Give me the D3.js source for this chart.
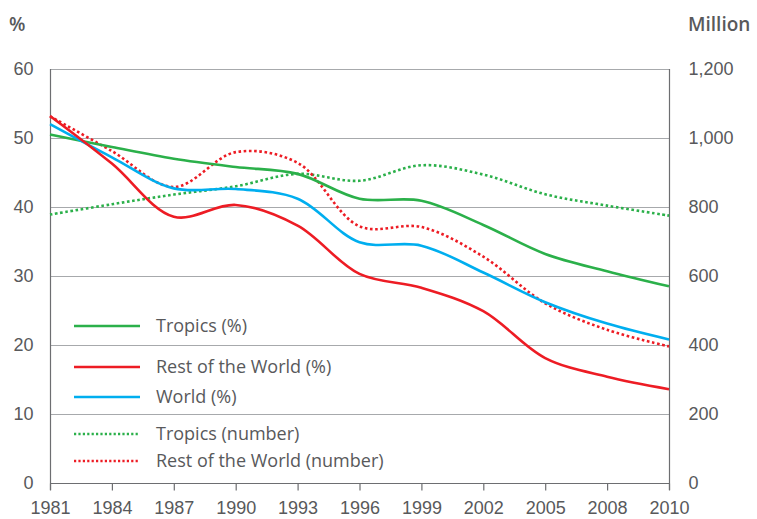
<!DOCTYPE html>
<html>
<head>
<meta charset="utf-8">
<script src="https://cdn.jsdelivr.net/npm/d3@7"></script>
<style>
  body { margin: 0; background: #fff; }
  svg { font-family: "Open Sans", sans-serif; }
  .tick text { fill: #58595b; font-size: 18px; }
</style>
</head>
<body>
<script>
// poverty data, years are plotted as evenly spaced points
const years = ['1981', '1984', '1987', '1990', '1993', '1996', '1999', '2002', '2005', '2008', '2010'];

const tropicsPct = [50.5, 48.7, 47.0, 45.8, 44.8, 41.2, 40.9, 37.4, 33.2, 30.7, 28.5];
const restPct = [53.2, 46.3, 38.6, 40.3, 37.3, 30.3, 28.3, 24.9, 18.1, 15.4, 13.6];
const worldPct = [52.0, 47.2, 42.7, 42.6, 41.2, 34.9, 34.4, 30.5, 26.2, 23.1, 20.8];
const tropicsNum = [778, 808, 836, 860, 896, 876, 921, 894, 837, 804, 775];
const restNum = [1063, 962, 858, 959, 928, 744, 742, 656, 521, 444, 396];

const leftTicks = [0, 10, 20, 30, 40, 50, 60];
const rightTicks = [0, 200, 400, 600, 800, 1000, 1200];

const w = 757, h = 519;
const margin = { left: 50, right: 88, top: 69, bottom: 36 };

const svg = d3.select('body')
  .append('svg')
  .attr('width', w)
  .attr('height', h);

const x = d3.scalePoint()
  .domain(years)
  .range([margin.left, w - margin.right]);

const yLeft = d3.scaleLinear()
  .domain([0, 60])
  .range([h - margin.bottom, margin.top]);

const yRight = d3.scaleLinear()
  .domain([0, 1200])
  .range([h - margin.bottom, margin.top]);

// gridlines
svg.append('g')
  .selectAll('line')
  .data(leftTicks.filter(d => d > 0))
  .enter().append('line')
  .attr('x1', margin.left)
  .attr('x2', w - margin.right)
  .attr('y1', d => Math.round(yLeft(d)) + 0.5)
  .attr('y2', d => Math.round(yLeft(d)) + 0.5)
  .attr('stroke', '#a7a9ac')
  .attr('stroke-width', 1.2);

// axes
const xAxis = svg.append('g')
  .attr('transform', `translate(0,${Math.round(yLeft(0)) + 0.5})`)
  .call(d3.axisBottom(x).tickSize(7).tickPadding(11));

const leftAxis = svg.append('g')
  .attr('transform', `translate(${margin.left + 0.5},0)`)
  .call(d3.axisLeft(yLeft).tickValues(leftTicks).tickSize(0).tickPadding(17));

const rightAxis = svg.append('g')
  .attr('transform', `translate(${w - margin.right + 0.5},0)`)
  .call(d3.axisRight(yRight).tickValues(rightTicks).tickSize(0).tickPadding(19)
    .tickFormat(d3.format(',')));

[xAxis, leftAxis, rightAxis].forEach(a => {
  a.select('.domain').attr('stroke', '#6d6e71').attr('stroke-width', 1.2);
  a.selectAll('.tick line').attr('stroke', '#6d6e71').attr('stroke-width', 1.2);
});
xAxis.select('.domain').attr('d', `M${margin.left},0H${w - margin.right}`);
rightAxis.select('.domain').attr('d', `M0,${margin.top}V${h - margin.bottom + 7}`);
leftAxis.select('.domain').attr('d', `M0,${margin.top}V${h - margin.bottom + 7}`);

// axis titles
svg.append('text')
  .attr('x', 9).attr('y', 31)
  .attr('fill', '#58595b')
  .style('font-size', '19px')
  .style('font-weight', 600)
  .text('%');

svg.append('text')
  .attr('x', 688).attr('y', 31)
  .attr('fill', '#58595b')
  .style('font-size', '19px')
  .style('font-weight', 600)
  .text('Million');

// series
const series = [
  { name: 'Tropics (number)', values: tropicsNum, y: yRight, color: '#2bb04a', dotted: true },
  { name: 'Rest of the World (number)', values: restNum, y: yRight, color: '#ed1c24', dotted: true },
  { name: 'Tropics (%)', values: tropicsPct, y: yLeft, color: '#2bb04a', dotted: false },
  { name: 'World (%)', values: worldPct, y: yLeft, color: '#00aeef', dotted: false },
  { name: 'Rest of the World (%)', values: restPct, y: yLeft, color: '#ed1c24', dotted: false },
];

series.forEach(s => {
  const line = d3.line()
    .x((d, i) => x(years[i]))
    .y(d => s.y(d))
    .curve(d3.curveCatmullRom.alpha(0.5));
  svg.append('path')
    .datum(s.values)
    .attr('d', line)
    .attr('fill', 'none')
    .attr('stroke', s.color)
    .attr('stroke-width', 2.6)
    .attr('stroke-dasharray', s.dotted ? '2.6,2.6' : null);
});

// legend
const legendItems = [
  { name: 'Tropics (%)', color: '#2bb04a', dotted: false, y: 326 },
  { name: 'Rest of the World (%)', color: '#ed1c24', dotted: false, y: 367 },
  { name: 'World (%)', color: '#00aeef', dotted: false, y: 397 },
  { name: 'Tropics (number)', color: '#2bb04a', dotted: true, y: 434 },
  { name: 'Rest of the World (number)', color: '#ed1c24', dotted: true, y: 461 },
];

const legend = svg.append('g')
  .selectAll('g')
  .data(legendItems)
  .enter().append('g')
  .attr('transform', d => `translate(74,${d.y})`);

legend.append('line')
  .attr('x1', 0).attr('x2', 66)
  .attr('stroke', d => d.color)
  .attr('stroke-width', 2.6)
  .attr('stroke-dasharray', d => d.dotted ? '2.2,2.2' : null);

legend.append('text')
  .attr('x', 82)
  .attr('dy', '0.36em')
  .attr('fill', '#58595b')
  .style('font-size', '18px')
  .text(d => d.name);
</script>
</body>
</html>
